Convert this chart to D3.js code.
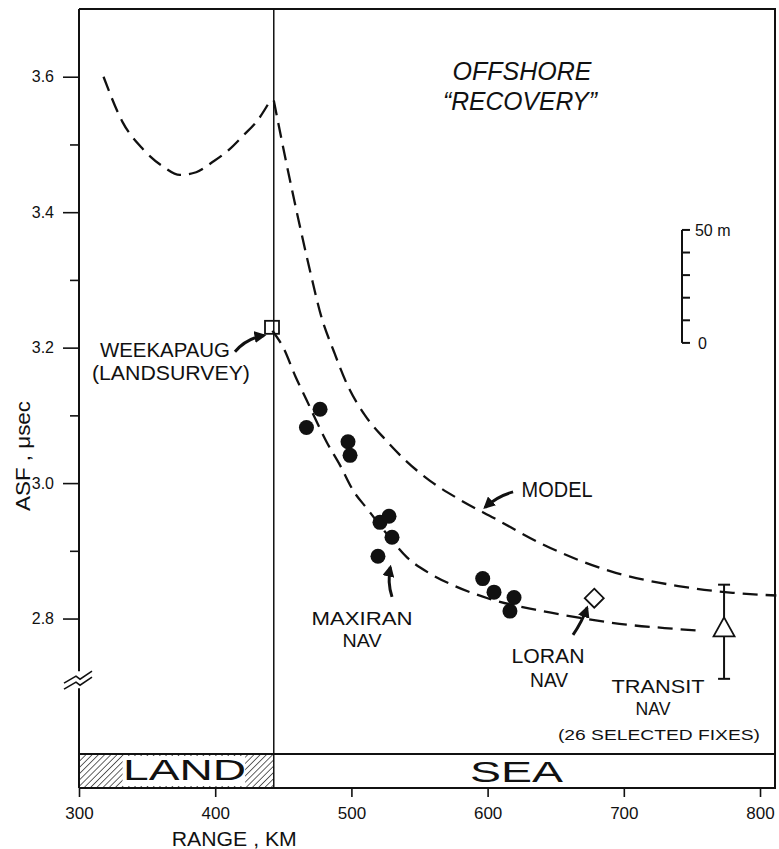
<!DOCTYPE html>
<html>
<head>
<meta charset="utf-8">
<script src="https://cdn.jsdelivr.net/npm/d3@7"></script>
<style>
  body { margin: 0; background: #fff; }
  text { font-family: "Liberation Sans", Arial, sans-serif; fill: #111; }
</style>
</head>
<body>
<svg id="chart" width="779" height="849"></svg>
<script>
// ---- data ----
const leftKm  = [318, 332, 347, 362, 374, 386, 398, 410, 420, 432, 441];
const leftAsf = [3.600, 3.533, 3.493, 3.467, 3.455, 3.459, 3.474, 3.492, 3.512, 3.538, 3.567];

const modelKm  = [443, 452, 461, 470, 478, 487, 497, 510, 525, 540, 558, 580, 605, 640, 690, 740, 780, 812];
const modelAsf = [3.565, 3.475, 3.390, 3.310, 3.245, 3.195, 3.145, 3.100, 3.064, 3.033, 3.003, 2.975, 2.948, 2.910, 2.870, 2.848, 2.838, 2.834];

const fitKm  = [442, 450, 459, 467, 482, 492, 501, 512, 526, 541, 558, 576, 600, 635, 668, 702, 730, 756];
const fitAsf = [3.225, 3.200, 3.157, 3.123, 3.060, 3.025, 2.990, 2.961, 2.925, 2.890, 2.866, 2.848, 2.830, 2.813, 2.801, 2.791, 2.786, 2.782];

const maxiranKm  = [467, 477, 497.5, 499, 519.5, 521, 527.6, 529.8, 596.4, 604.7, 616.4, 619.4];
const maxiranAsf = [3.082, 3.109, 3.061, 3.041, 2.892, 2.942, 2.951, 2.920, 2.859, 2.839, 2.811, 2.831];

const weekapaug = [441.7, 3.230];
const loran = [678.3, 2.830];
const transit = [773.6, 2.787];
const transitRange = [2.711, 2.850];

const landSeaKm = 443;
const xTicks = [300, 400, 500, 600, 700, 800];
const yMajor = [2.8, 3.0, 3.2, 3.4, 3.6];
const yMinor = [2.9, 3.1, 3.3, 3.5];
const breakAsf = 2.709;

// scale bar: 0..50 m in 10 m steps, drawn against the ASF axis (c = 299.79 m/us)
const scaleBarKm = 742.7;
const scaleBarBase = 3.207;
const scaleBarMeters = [0, 10, 20, 30, 40, 50];

// ---- layout ----
const svg = d3.select('#chart');
const plotLeft = 79, plotRight = 775, plotTop = 9, plotBottom = 754, barBottom = 788;

const x = d3.scaleLinear().domain([300, 811]).range([plotLeft, plotRight]);
const y = d3.scaleLinear().domain([2.6, 3.7]).range([plotBottom, plotTop]);

const ink = '#111';

// hatch for the LAND strip
const defs = svg.append('defs');
defs.append('pattern')
    .attr('id', 'hatch')
    .attr('patternUnits', 'userSpaceOnUse')
    .attr('width', 4.4).attr('height', 4.4)
    .attr('patternTransform', 'rotate(45)')
    .append('line')
    .attr('x1', 0).attr('y1', 0).attr('x2', 0).attr('y2', 4.4)
    .attr('stroke', ink).attr('stroke-width', 1.3);

defs.append('marker')
    .attr('id', 'head')
    .attr('viewBox', '0 0 10 10')
    .attr('refX', 8).attr('refY', 5)
    .attr('markerWidth', 4).attr('markerHeight', 4)
    .attr('markerUnits', 'strokeWidth')
    .attr('orient', 'auto')
    .append('path')
    .attr('d', 'M0,0 L10,5 L0,10 z')
    .attr('fill', ink);

// land / sea strip
const xl = x(landSeaKm);
svg.append('rect')
    .attr('x', plotLeft).attr('y', plotBottom)
    .attr('width', xl - plotLeft).attr('height', barBottom - plotBottom)
    .attr('fill', 'url(#hatch)');
svg.append('rect')
    .attr('x', x(332)).attr('y', plotBottom + 2)
    .attr('width', x(422) - x(332)).attr('height', barBottom - plotBottom - 4)
    .attr('fill', '#fff');

svg.append('text')
    .attr('x', x(377.5)).attr('y', 780)
    .attr('text-anchor', 'middle')
    .attr('font-size', 29)
    .attr('textLength', 123).attr('lengthAdjust', 'spacingAndGlyphs')
    .text('LAND');
svg.append('text')
    .attr('x', x(621.2)).attr('y', 782)
    .attr('text-anchor', 'middle')
    .attr('font-size', 30)
    .attr('textLength', 93).attr('lengthAdjust', 'spacingAndGlyphs')
    .text('SEA');

// frame
const frame = svg.append('g').attr('fill', 'none').attr('stroke', ink);
frame.append('path')
    .attr('d', `M${plotLeft},${plotTop} H${plotRight} V${barBottom} H${plotLeft}`)
    .attr('stroke-width', 2);
frame.append('line')
    .attr('x1', plotLeft).attr('x2', plotRight)
    .attr('y1', plotBottom).attr('y2', plotBottom)
    .attr('stroke-width', 2);
// left axis with a break
const by = y(breakAsf);
frame.append('line')
    .attr('x1', plotLeft).attr('x2', plotLeft)
    .attr('y1', plotTop).attr('y2', by - 9)
    .attr('stroke-width', 2);
frame.append('line')
    .attr('x1', plotLeft).attr('x2', plotLeft)
    .attr('y1', by + 8).attr('y2', barBottom)
    .attr('stroke-width', 2);
[-3, 3].forEach(off => {
    frame.append('path')
        .attr('d', `M${plotLeft - 15},${by + off + 6} L${plotLeft - 3},${by + off - 1} L${plotLeft + 1},${by + off + 2} L${plotLeft + 13},${by + off - 6}`)
        .attr('stroke-width', 1.6);
});
// land / sea boundary
frame.append('line')
    .attr('x1', xl).attr('x2', xl)
    .attr('y1', plotTop).attr('y2', barBottom)
    .attr('stroke-width', 1.5);

// axes
const yAxis = svg.append('g')
    .attr('transform', `translate(${plotLeft},0)`)
    .call(d3.axisLeft(y).tickValues(yMajor).tickSize(16).tickPadding(9).tickFormat(d3.format('.1f')));
yAxis.select('.domain').remove();
yAxis.selectAll('line').attr('stroke', ink).attr('stroke-width', 1.6);
yAxis.selectAll('text').attr('font-size', 16).attr('font-family', '"Liberation Sans", Arial, sans-serif').attr('fill', ink);

const yMinorAxis = svg.append('g')
    .attr('transform', `translate(${plotLeft},0)`)
    .call(d3.axisLeft(y).tickValues(yMinor).tickSize(9).tickFormat(''));
yMinorAxis.select('.domain').remove();
yMinorAxis.selectAll('line').attr('stroke', ink).attr('stroke-width', 1.6);

const xAxis = svg.append('g')
    .attr('transform', `translate(0,${barBottom})`)
    .call(d3.axisBottom(x).tickValues(xTicks).tickSize(9).tickPadding(10).tickFormat(d3.format('d')));
xAxis.select('.domain').remove();
xAxis.selectAll('line').attr('stroke', ink).attr('stroke-width', 1.6);
xAxis.selectAll('text').attr('font-size', 17).attr('font-family', '"Liberation Sans", Arial, sans-serif').attr('fill', ink);

svg.append('text')
    .attr('x', x(414)).attr('y', 846)
    .attr('text-anchor', 'middle')
    .attr('font-size', 21)
    .attr('textLength', 125).attr('lengthAdjust', 'spacingAndGlyphs')
    .text('RANGE , KM');

svg.append('text')
    .attr('transform', `translate(30,${y(3.04)}) rotate(-90)`)
    .attr('text-anchor', 'middle')
    .attr('font-size', 21)
    .attr('textLength', 110).attr('lengthAdjust', 'spacingAndGlyphs')
    .text('ASF , \u03BCsec');

// curves
const line = d3.line().x(d => x(d[0])).y(d => y(d[1])).curve(d3.curveMonotoneX);
const curves = [
    { km: leftKm, asf: leftAsf },
    { km: modelKm, asf: modelAsf },
    { km: fitKm, asf: fitAsf }
];
svg.append('g')
    .selectAll('path')
    .data(curves)
    .enter()
    .append('path')
    .attr('d', c => line(c.km.map((k, i) => [k, c.asf[i]])))
    .attr('fill', 'none')
    .attr('stroke', ink)
    .attr('stroke-width', 2.3)
    .attr('stroke-dasharray', '15,8');

// maxiran fixes
svg.append('g')
    .selectAll('circle')
    .data(maxiranKm.map((k, i) => [k, maxiranAsf[i]]))
    .enter()
    .append('circle')
    .attr('cx', d => x(d[0]))
    .attr('cy', d => y(d[1]))
    .attr('r', 7.5)
    .attr('fill', ink);

// weekapaug land survey
svg.append('rect')
    .attr('x', x(weekapaug[0]) - 7).attr('y', y(weekapaug[1]) - 6.5)
    .attr('width', 14).attr('height', 13)
    .attr('fill', 'none').attr('stroke', ink).attr('stroke-width', 1.8);

// loran
const lx = x(loran[0]), ly = y(loran[1]);
svg.append('path')
    .attr('d', `M${lx},${ly - 9.5} L${lx + 9.5},${ly} L${lx},${ly + 9.5} L${lx - 9.5},${ly} Z`)
    .attr('fill', '#fff').attr('stroke', ink).attr('stroke-width', 1.8);

// transit with range bar
const tx = x(transit[0]), ty = y(transit[1]);
svg.append('line')
    .attr('x1', tx).attr('x2', tx)
    .attr('y1', y(transitRange[0])).attr('y2', y(transitRange[1]))
    .attr('stroke', ink).attr('stroke-width', 2);
transitRange.forEach(v => {
    svg.append('line')
        .attr('x1', tx - 6).attr('x2', tx + 6)
        .attr('y1', y(v)).attr('y2', y(v))
        .attr('stroke', ink).attr('stroke-width', 2);
});
svg.append('path')
    .attr('d', `M${tx},${ty - 10} L${tx + 10.5},${ty + 9} L${tx - 10.5},${ty + 9} Z`)
    .attr('fill', '#fff').attr('stroke', ink).attr('stroke-width', 1.8);

// scale bar
const sbx = x(scaleBarKm);
const mToAsf = m => scaleBarBase + m / 299.79;
svg.append('line')
    .attr('x1', sbx).attr('x2', sbx)
    .attr('y1', y(mToAsf(0))).attr('y2', y(mToAsf(50)))
    .attr('stroke', ink).attr('stroke-width', 2);
svg.append('g')
    .selectAll('line')
    .data(scaleBarMeters)
    .enter()
    .append('line')
    .attr('x1', sbx).attr('x2', sbx + 8)
    .attr('y1', m => y(mToAsf(m))).attr('y2', m => y(mToAsf(m)))
    .attr('stroke', ink).attr('stroke-width', 2);
svg.append('text')
    .attr('x', sbx + 13).attr('y', y(mToAsf(50)) + 6)
    .attr('font-size', 16)
    .text('50 m');
svg.append('text')
    .attr('x', sbx + 16).attr('y', y(mToAsf(0)) + 6)
    .attr('font-size', 16)
    .text('0');

// annotation labels: [text, km, asf(baseline), font size, length, italic]
const labels = [
    ['OFFSHORE', 625.3, 3.595, 26, 139, true],
    ['\u201CRECOVERY\u201D', 623.8, 3.551, 26, 154, true],
    ['WEEKAPAUG', 363.1, 3.186, 20, 130, false],
    ['(LANDSURVEY)', 367.5, 3.152, 20, 158, false],
    ['MODEL', 651, 2.979, 22, 71, false],
    ['MAXIRAN', 507.8, 2.790, 19, 101, false],
    ['NAV', 507.8, 2.758, 19, 39, false],
    ['LORAN', 644.3, 2.734, 20, 73, false],
    ['NAV', 645.1, 2.699, 20, 38, false],
    ['TRANSIT', 725.1, 2.690, 19, 93, false],
    ['NAV', 721.4, 2.658, 19, 35, false],
    ['(26  SELECTED  FIXES)', 725.8, 2.621, 14, 202, false]
];
svg.append('g')
    .selectAll('text')
    .data(labels)
    .enter()
    .append('text')
    .attr('x', d => x(d[1]))
    .attr('y', d => y(d[2]))
    .attr('text-anchor', 'middle')
    .attr('font-size', d => d[3])
    .attr('textLength', d => d[4])
    .attr('lengthAdjust', 'spacingAndGlyphs')
    .style('font-style', d => d[5] ? 'italic' : 'normal')
    .text(d => d[0]);

// pointer arrows: from, to (data coords), bend in px
const arrows = [
    [[414.5, 3.194], [435.9, 3.218], -6],
    [[618.7, 2.987], [598.1, 2.964], 4],
    [[529.8, 2.832], [528.6, 2.876], -4],
    [[662.7, 2.776], [673.0, 2.816], 2]
];
svg.append('g')
    .selectAll('path')
    .data(arrows)
    .enter()
    .append('path')
    .attr('d', a => {
        const x0 = x(a[0][0]), y0 = y(a[0][1]), x1 = x(a[1][0]), y1 = y(a[1][1]);
        const dx = x1 - x0, dy = y1 - y0, len = Math.hypot(dx, dy);
        const cx = (x0 + x1) / 2 - dy / len * a[2], cy = (y0 + y1) / 2 + dx / len * a[2];
        return `M${x0},${y0} Q${cx},${cy} ${x1},${y1}`;
    })
    .attr('fill', 'none')
    .attr('stroke', ink)
    .attr('stroke-width', 3)
    .attr('marker-end', 'url(#head)');
</script>
</body>
</html>
